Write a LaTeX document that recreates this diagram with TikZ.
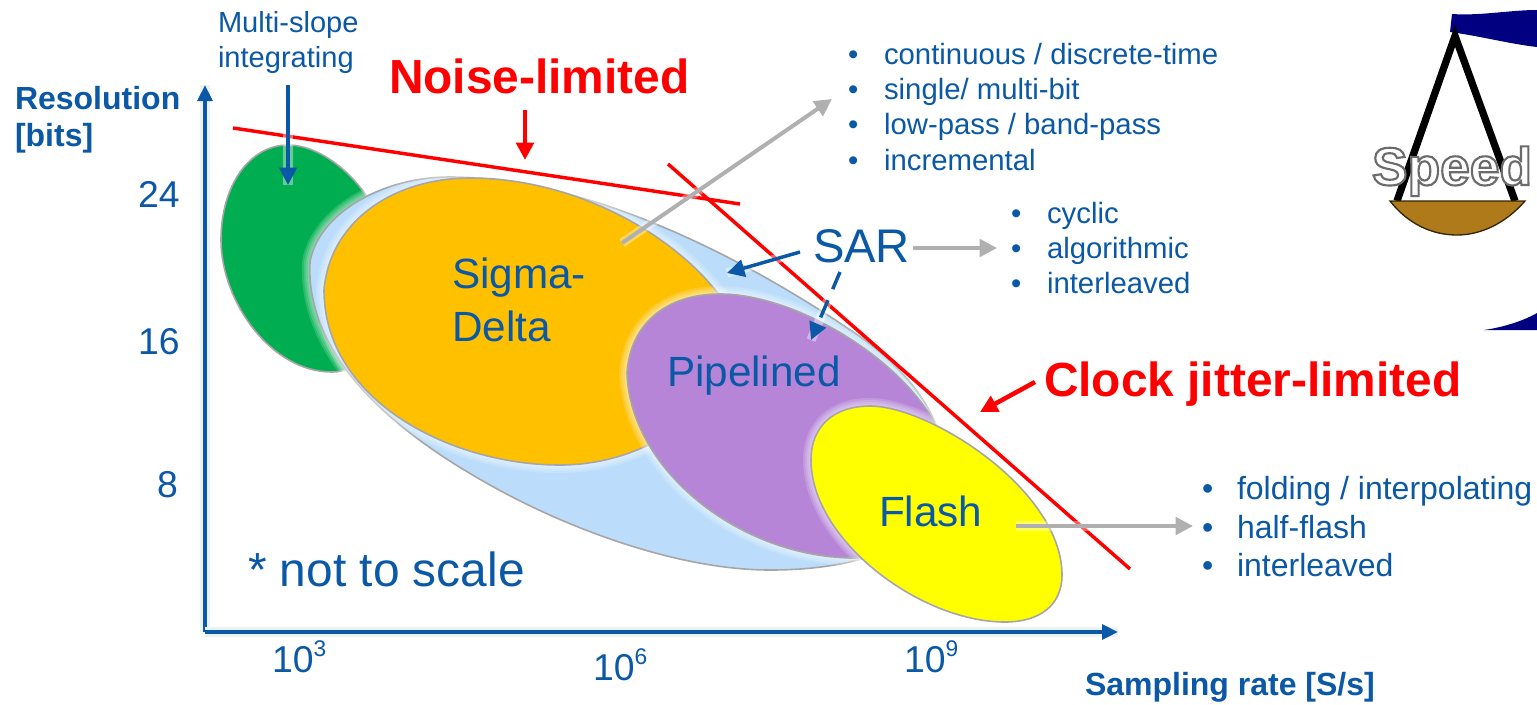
\documentclass[tikz,border=0pt]{standalone}
\usepackage{fontspec}
\setmainfont{Liberation Sans}
\usetikzlibrary{arrows.meta}
\definecolor{lblue}{HTML}{0A58A6}
\definecolor{lred}{HTML}{FF0000}
\definecolor{lgrey}{HTML}{B0B0B0}
\definecolor{edge}{HTML}{A6A6A6}
\definecolor{bgreen}{HTML}{00AD50}
\definecolor{bsky}{HTML}{BBDDFB}
\definecolor{borange}{HTML}{FFC000}
\definecolor{bpurple}{HTML}{B685D8}
\definecolor{byellow}{HTML}{FFFF00}
\definecolor{beam}{HTML}{000080}
\definecolor{pan}{HTML}{AF7A1A}
\newcommand{\fs}[1]{\fontsize{#1}{#1}\selectfont}
\newcommand{\blob}[2]{%
  \foreach \w in {12,9,6,3}{\draw[white,opacity=.16,line width=\w pt] #2;}
  \draw[fill=#1,draw=edge,line width=1.2pt] #2;}
\newcommand{\li}[6]{%
  \node[txt,lblue,font=\fs{#6}] (#1b) at (#2,#4) {•};
  \node[txt,lblue,font=\fs{#6}] (#1) at (#3,#4) {#5};}
\tikzset{
  txt/.style={anchor=base west,inner sep=0pt,outer sep=0pt},
  axisline/.style={lblue,line width=3pt,-{Triangle[length=12pt,width=11pt]},preaction={draw=lblue!8,line width=8pt,arrows=-}},
  bluearrow/.style={lblue,line width=2.6pt,-{Triangle[length=13pt,width=13pt]},preaction={draw=white,opacity=.4,line width=7pt,arrows=-}},
  redarrow/.style={lred,line width=3.4pt,-{Triangle[length=13pt,width=13pt]}},
  greyarrow/.style={lgrey,line width=3pt,-{Triangle[length=13pt,width=13pt]},preaction={draw=white,opacity=.35,line width=7pt,arrows=-}},
  redline/.style={lred,line width=2.6pt},
}
\begin{document}
\begin{tikzpicture}[x=0.75pt,y=-0.75pt]
\useasboundingbox (0,0) rectangle (1537,704);
\fill[white] (0,0) rectangle (1537,704);

% regions
\blob{bgreen}{(221,240) .. controls (221,185) and (250,145) .. (288,145) .. controls (320,145) and (360,175) .. (380,220) .. controls (400,300) and (380,372) .. (332,372) .. controls (270,372) and (221,300) .. (221,240) -- cycle}
\blob{bsky}{(310,262) .. controls (318,215) and (380,177) .. (450,177) .. controls (570,177) and (720,240) .. (862,338) .. controls (920,380) and (960,440) .. (940,500) .. controls (920,550) and (850,570) .. (770,570) .. controls (680,570) and (570,530) .. (490,485) .. controls (400,435) and (305,360) .. (310,262) -- cycle}
\blob{borange}{(324,290) .. controls (330,220) and (395,178) .. (470,178) .. controls (570,178) and (670,230) .. (720,296) .. controls (770,360) and (680,465) .. (560,465) .. controls (450,465) and (324,400) .. (324,290) -- cycle}
\blob{bpurple}{(627,373) .. controls (630,325) and (665,294) .. (720,294) .. controls (790,294) and (890,350) .. (932,418) .. controls (960,470) and (900,558) .. (855,558) .. controls (740,558) and (630,470) .. (627,373) -- cycle}
\blob{byellow}{(811,460) .. controls (811,425) and (835,406) .. (870,406) .. controls (930,406) and (1062,490) .. (1062,575) .. controls (1062,605) and (1040,622) .. (1005,622) .. controls (920,622) and (811,540) .. (811,460) -- cycle}

% balance
\begin{scope}
\clip (0,0) rectangle (1537,704);
\fill[beam] (1452,14) .. controls (1480,16) and (1510,10) .. (1537,10) -- (1537,47) .. controls (1510,44) and (1480,36) .. (1450,32) -- cycle;
\fill[beam] (1484,330) .. controls (1505,327) and (1525,320) .. (1537,313) -- (1537,330) -- cycle;
\draw[black,line width=5.5pt] (1397,201) -- (1455,36) -- (1515,201);
\draw[fill=pan,draw=black!70!pan,line width=1pt] (1390,201) -- (1525,201) .. controls (1505,224) and (1480,235) .. (1457,235) .. controls (1432,235) and (1408,224) .. (1390,201) -- cycle;
\end{scope}
\node[txt,font=\bfseries\fs{40pt},white] (speed) at (1372,185) {\special{pdf:code 2 Tr 0.42 G 1.6 w}Speed\special{pdf:code 0 Tr}};

% limit lines
\coordinate (noiseA) at (233,128);
\coordinate (noiseB) at (740,204);
\coordinate (jitterA) at (668,164);
\coordinate (jitterB) at (1130,569);
\draw[redline] (noiseA) -- (noiseB);
\draw[redline] (jitterA) -- (jitterB);

% axes
\coordinate (origin) at (205,632);
\coordinate (yend) at (205,85);
\coordinate (xend) at (1118,632);
\draw[axisline] (origin) -- (yend);
\draw[axisline] (origin) -- (xend);

% texts
\node[txt,lblue,font=\bfseries\fs{24pt}] (ylab1) at (15,109) {Resolution};
\node[txt,lblue,font=\bfseries\fs{24pt}] (ylab2) at (15,146) {[bits]};
\node[txt,lblue,font=\bfseries\fs{24pt}] (xlab) at (1085,695) {Sampling rate [S/s]};
\node[txt,lblue,font=\fs{21.8pt}] (ms1) at (218,32) {Multi-slope};
\node[txt,lblue,font=\fs{21.8pt}] (ms2) at (218,67) {integrating};
\node[txt,lred,font=\bfseries\fs{35.9pt}] (noise) at (389,93) {Noise-limited};
\node[txt,lred,font=\bfseries\fs{35.9pt}] (jitter) at (1044,396) {Clock jitter-limited};
\node[txt,lblue,font=\fs{28pt}] (y24) at (138,207) {24};
\node[txt,lblue,font=\fs{28pt}] (y16) at (138,354) {16};
\node[txt,lblue,font=\fs{28pt}] (y8) at (157,497) {8};
\node[txt,lblue,font=\fs{28pt}] (x3) at (272,672) {10\raisebox{.42em}{\fs{17pt}3}};
\node[txt,lblue,font=\fs{28pt}] (x6) at (593,680) {10\raisebox{.42em}{\fs{17pt}6}};
\node[txt,lblue,font=\fs{28pt}] (x9) at (904,672) {10\raisebox{.42em}{\fs{17pt}9}};
\node[txt,lblue,font=\fs{35.9pt}] (scale) at (248,586) {* not to scale};
\node[txt,lblue,font=\fs{31.7pt}] (sigma) at (452,288) {Sigma-};
\node[txt,lblue,font=\fs{31.7pt}] (delta) at (452,341) {Delta};
\node[txt,lblue,font=\fs{31.7pt}] (pipe) at (667,386) {Pipelined};
\node[txt,lblue,font=\fs{31.7pt}] (flash) at (879,526) {Flash};
\node[txt,lblue,font=\fs{35.4pt}] (sar) at (813,262) {SAR};

\li{a1}{848}{884}{64}{continuous / discrete-time}{22pt}
\li{a2}{848}{884}{99}{single/ multi-bit}{22pt}
\li{a3}{848}{884}{134}{low-pass / band-pass}{22pt}
\li{a4}{848}{884}{170}{incremental}{22pt}
\li{b1}{1011}{1047}{223}{cyclic}{22pt}
\li{b2}{1011}{1047}{258}{algorithmic}{22pt}
\li{b3}{1011}{1047}{293}{interleaved}{22pt}
\li{c1}{1202}{1237}{499}{folding / interpolating}{24pt}
\li{c2}{1202}{1237}{538}{half-flash}{24pt}
\li{c3}{1202}{1237}{576}{interleaved}{24pt}

% arrows
\coordinate (msA) at (288,85);
\coordinate (msB) at (288,185);
\draw[bluearrow] (msA) -- (msB);
\coordinate (nA) at (525,110);
\coordinate (nB) at (525,160);
\draw[redarrow] (nA) -- (nB);
\coordinate (jA) at (1035,382);
\coordinate (jB) at (980,412);
\draw[redarrow] (jA) -- (jB);
\coordinate (g1A) at (622,243);
\coordinate (g1B) at (832,99);
\draw[greyarrow] (g1A) -- (g1B);
\coordinate (g2A) at (913,248);
\coordinate (g2B) at (997,248);
\draw[greyarrow] (g2A) -- (g2B);
\coordinate (g3A) at (1016,526);
\coordinate (g3B) at (1193,526);
\draw[greyarrow] (g3A) -- (g3B);
\coordinate (s1A) at (800,252);
\coordinate (s1B) at (727,273);
\draw[bluearrow] (s1A) -- (s1B);
\coordinate (s2A) at (840,272);
\coordinate (s2B) at (811,340);
\draw[bluearrow,dash pattern=on 14pt off 9pt] (s2A) -- (s2B);
\end{tikzpicture}
\end{document}
